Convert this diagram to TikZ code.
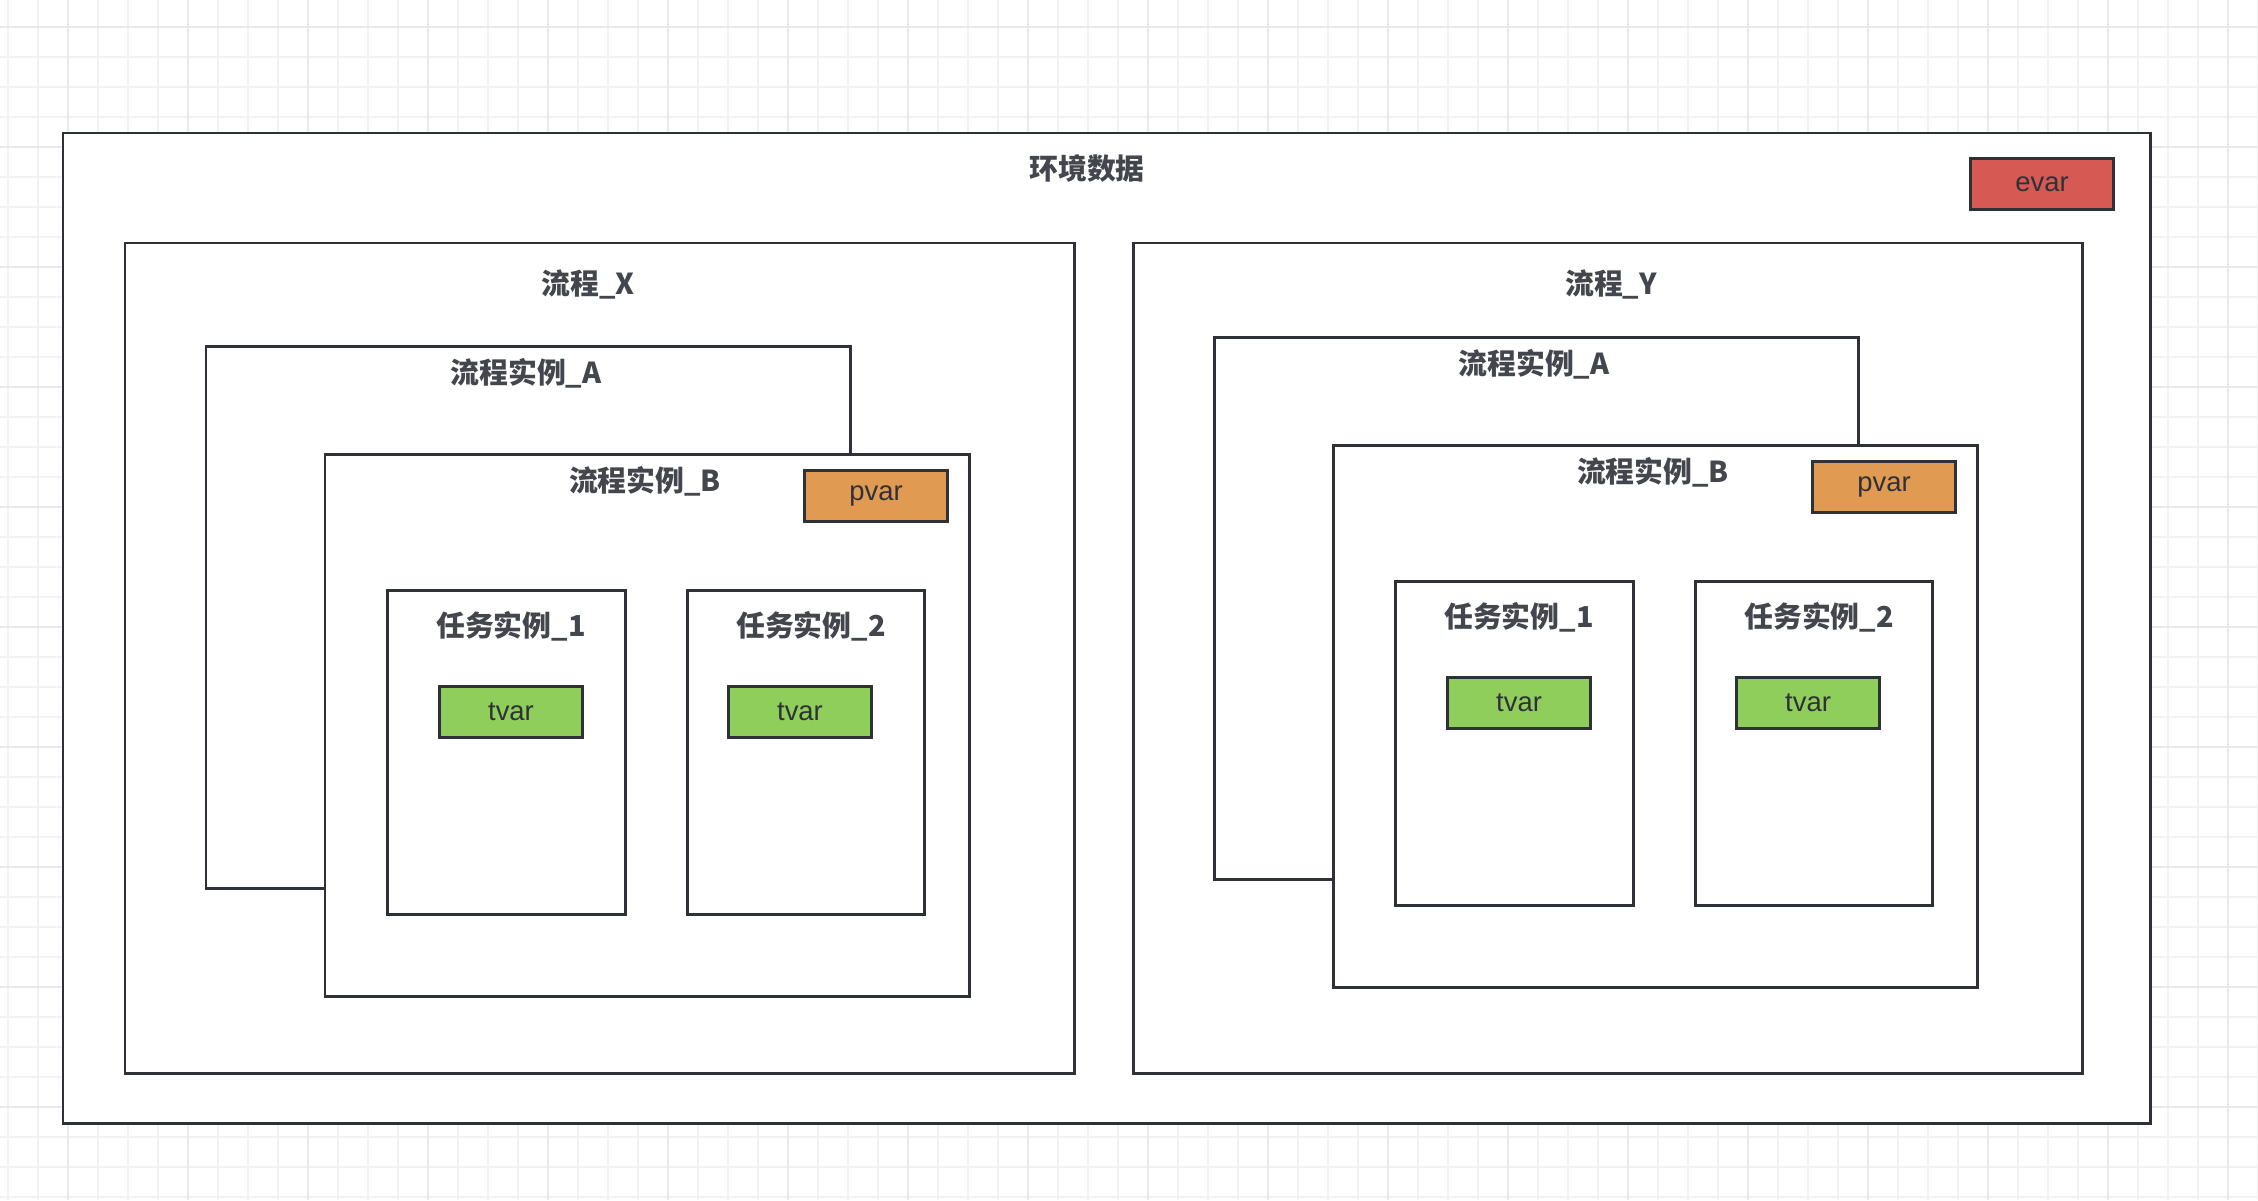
\documentclass[tikz,border=0pt]{standalone}
\usepackage{fontspec}
\setmainfont{Liberation Sans}
\newfontfamily\cjk{Noto Sans CJK SC}
\usetikzlibrary{fit}

\definecolor{edgecol}{HTML}{2E3238}
\definecolor{evarcol}{HTML}{D65A53}
\definecolor{pvarcol}{HTML}{E09A52}
\definecolor{tvarcol}{HTML}{8FCE5A}
\definecolor{gridmin}{HTML}{F2F2F2}
\definecolor{gridmaj}{HTML}{E9E9E9}

\tikzset{
  box/.style={draw=edgecol,line width=0.85pt,fill=white,inner sep=0pt},
  title/.style={font=\cjk\bfseries\fontsize{8.2}{10}\selectfont,text=edgecol!90!white,inner sep=0pt},
  varbox/.style={draw=edgecol,line width=0.85pt,minimum width=1.43cm,minimum height=0.51cm,
    inner sep=0pt,font=\fontsize{7.8}{9}\selectfont,text=edgecol},
}

\begin{document}
\begin{tikzpicture}[x=0.01cm,y=-0.01cm]
\useasboundingbox (0,0) rectangle (2258,1200);

% background grid
\foreach \x in {8,38,...,2258} \draw[gridmin,line width=0.5pt] (\x,0) -- (\x,1200);
\foreach \y in {27,57,...,1200} \draw[gridmin,line width=0.5pt] (0,\y) -- (2258,\y);
\foreach \x in {68,188,...,2258} \draw[gridmaj,line width=0.6pt] (\x,0) -- (\x,1200);
\foreach \y in {27,147,...,1200} \draw[gridmaj,line width=0.6pt] (0,\y) -- (2258,\y);

% environment
\node[box,fit={(63,133) (2150,1123)}] (env) {};
\node[title] (envT) at (1087,168) {环境数据};
\node[varbox,fill=evarcol] (evar) at (2042,184) {evar};

% flow X
\node[box,fit={(125,243) (1074,1073)}] (flowX) {};
\node[title] (flowXT) at (588,284) {流程\_X};
\node[box,fit={(206,346) (850,888)}] (instAX) {};
\node[title] (instAXT) at (526,373) {流程实例\_A};
\node[box,fit={(325,454) (969,996)}] (instBX) {};
\node[title] (instBXT) at (645,481) {流程实例\_B};
\node[varbox,fill=pvarcol] (pvarX) at (876,496) {pvar};
\node[box,fit={(387,590) (625,914)}] (task1X) {};
\node[title] (task1XT) at (511,626) {任务实例\_1};
\node[varbox,fill=tvarcol] (tvar1X) at (511,712) {tvar};
\node[box,fit={(687,590) (924,914)}] (task2X) {};
\node[title] (task2XT) at (811,626) {任务实例\_2};
\node[varbox,fill=tvarcol] (tvar2X) at (800,712) {tvar};

% flow Y
\node[box,fit={(1133,243) (2082,1073)}] (flowY) {};
\node[title] (flowYT) at (1611,284) {流程\_Y};
\node[box,fit={(1214,337) (1858,879)}] (instAY) {};
\node[title] (instAYT) at (1534,364) {流程实例\_A};
\node[box,fit={(1333,445) (1977,987)}] (instBY) {};
\node[title] (instBYT) at (1653,472) {流程实例\_B};
\node[varbox,fill=pvarcol] (pvarY) at (1884,487) {pvar};
\node[box,fit={(1395,581) (1633,905)}] (task1Y) {};
\node[title] (task1YT) at (1519,617) {任务实例\_1};
\node[varbox,fill=tvarcol] (tvar1Y) at (1519,703) {tvar};
\node[box,fit={(1695,581) (1932,905)}] (task2Y) {};
\node[title] (task2YT) at (1819,617) {任务实例\_2};
\node[varbox,fill=tvarcol] (tvar2Y) at (1808,703) {tvar};
\end{tikzpicture}
\end{document}
